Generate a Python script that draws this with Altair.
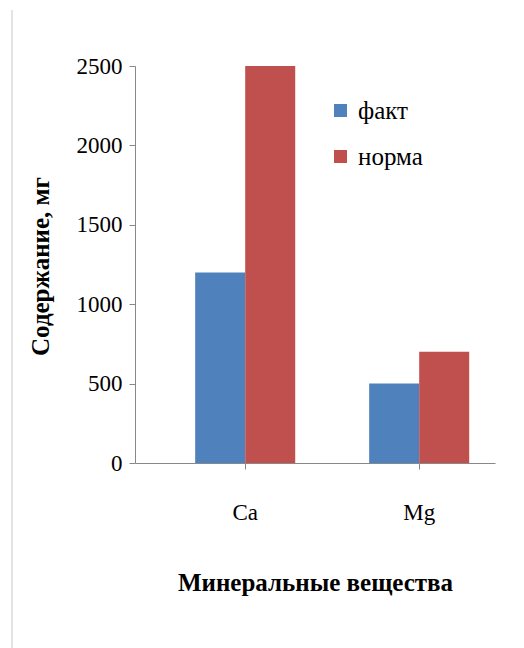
import altair as alt
import pandas as pd

minerals = ["Ca", "Ca", "Mg", "Mg"]
series = ["факт", "норма", "факт", "норма"]
values = [1200, 2500, 500, 700]

df = pd.DataFrame({"Минерал": minerals, "Ряд": series, "Значение": values})

SERIF = "Liberation Serif"

bars = alt.Chart(df).mark_bar().encode(
    x=alt.X(
        "Минерал:N",
        sort=["Ca", "Mg"],
        scale=alt.Scale(paddingInner=0.425, paddingOuter=0.247, align=0.7),
        axis=alt.Axis(
            title="Минеральные вещества",
            labelAngle=0,
            labelFont=SERIF,
            labelFontSize=23,
            labelColor="#000000",
            labelPadding=32,
            ticks=True,
            tickColor="#888888",
            tickSize=6,
            domainColor="#888888",
            titleFont=SERIF,
            titleFontSize=25,
            titleFontWeight="bold",
            titleColor="#000000",
            titlePadding=46,
        ),
    ),
    xOffset=alt.XOffset("Ряд:N", sort=["факт", "норма"]),
    y=alt.Y(
        "Значение:Q",
        scale=alt.Scale(domain=[0, 2500], nice=False),
        axis=alt.Axis(
            title="Содержание, мг",
            values=[0, 500, 1000, 1500, 2000, 2500],
            format="d",
            grid=False,
            labelFont=SERIF,
            labelFontSize=23,
            labelColor="#000000",
            labelPadding=7,
            tickColor="#888888",
            tickSize=6,
            domainColor="#888888",
            titleFont=SERIF,
            titleFontSize=25,
            titleFontWeight="bold",
            titleColor="#000000",
            titleX=-95,
            titleY=200,
            titleAngle=-90,
            titleAlign="center",
            titleBaseline="middle",
        ),
    ),
    color=alt.Color(
        "Ряд:N",
        sort=["факт", "норма"],
        scale=alt.Scale(domain=["факт", "норма"], range=["#4F81BD", "#C0504D"]),
        legend=alt.Legend(
            title=None,
            orient="none",
            legendX=193,
            legendY=32,
            symbolType="square",
            symbolSize=170,
            symbolStrokeWidth=0,
            labelFont=SERIF,
            labelFontSize=25,
            labelColor="#000000",
            rowPadding=20,
            labelOffset=5,
        ),
    ),
)

border = alt.Chart(pd.DataFrame({"a": [0]})).mark_rule(color="#c8c8c8", strokeWidth=1).encode(
    x=alt.value(-123), y=alt.value(-56), y2=alt.value(582)
)

chart = alt.layer(bars, border).properties(
    width=360,
    height=397,
    padding={"left": 135, "top": 66, "right": 29, "bottom": 185},
    autosize=alt.AutoSizeParams(type="none"),
    background="#ffffff",
).configure_view(stroke=None)

chart.save("out.html", embed_options={"renderer": "svg", "actions": False})
